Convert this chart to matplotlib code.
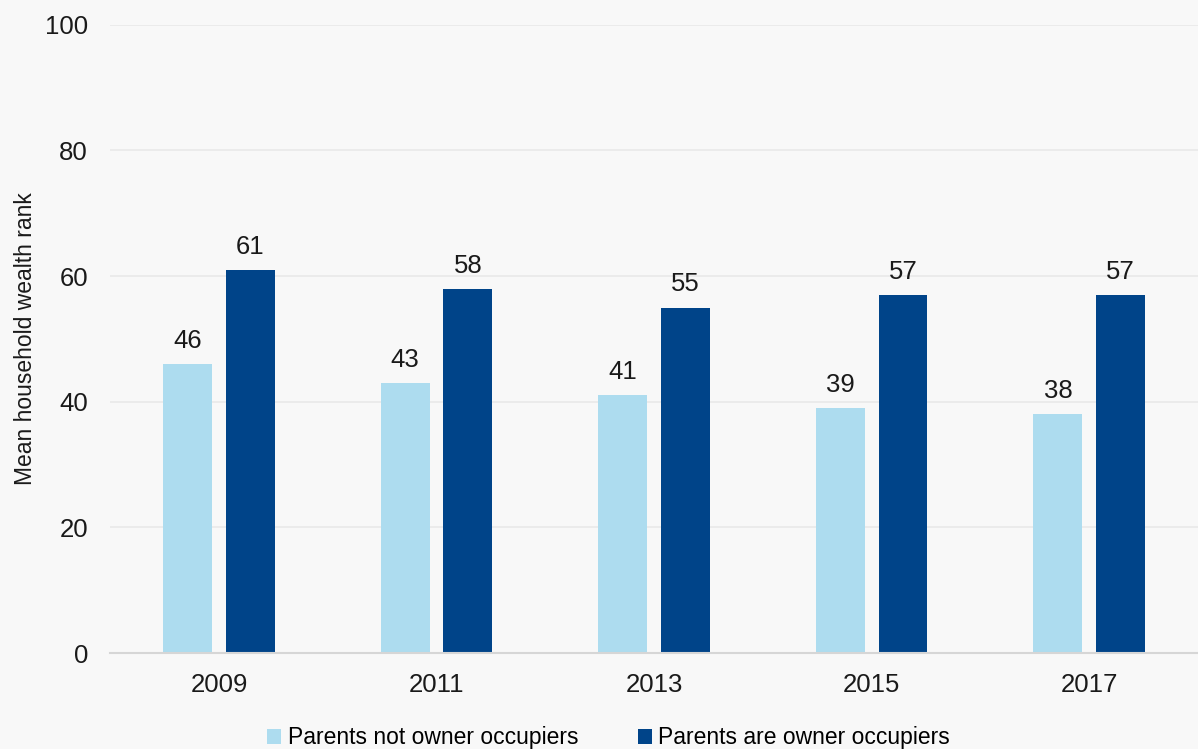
import matplotlib.pyplot as plt
import numpy as np

# Datos
years = ['2009', '2011', '2013', '2015', '2017']
not_owner = [46, 43, 41, 39, 38]
owner = [61, 58, 55, 57, 57]

C_LIGHT = '#addcef'
C_DARK = '#004489'
BG = '#f8f8f8'
C_TXT = '#1a1a1a'

plt.rcParams['font.family'] = ['Liberation Sans', 'DejaVu Sans']

fig = plt.figure(figsize=(11.98, 7.49), dpi=100)
fig.patch.set_facecolor(BG)
ax = fig.add_axes([0.092, 0.128, 0.908, 0.839])
ax.set_facecolor(BG)

x = np.arange(len(years))
w = 0.225
off = 0.144
b1 = ax.bar(x - off, not_owner, w, color=C_LIGHT, label='Parents not owner occupiers', zorder=3)
b2 = ax.bar(x + off, owner, w, color=C_DARK, label='Parents are owner occupiers', zorder=3)

# etiquetas de valor encima de cada barra
for bars, vals in ((b1, not_owner), (b2, owner)):
    for r, v in zip(bars, vals):
        ax.annotate(str(v), (r.get_x() + r.get_width() / 2, v),
                    xytext=(0, 8), textcoords='offset points',
                    ha='center', va='bottom', fontsize=18.5, color=C_TXT)

ax.set_xlim(-0.5, 4.5)
ax.set_ylim(0, 100)
ax.set_yticks([0, 20, 40, 60, 80, 100])
ax.set_xticks(x)
ax.set_xticklabels(years)
ax.tick_params(axis='both', length=0, labelsize=18.5, colors=C_TXT)
ax.tick_params(axis='y', pad=16)
ax.tick_params(axis='x', pad=14)
ax.yaxis.grid(True, color='#e9e9e9', lw=1.2, zorder=0)
ax.set_axisbelow(True)
for s in ['top', 'right', 'left']:
    ax.spines[s].set_visible(False)
ax.spines['bottom'].set_color('#d6d6d6')
ax.spines['bottom'].set_linewidth(1.5)
ax.spines['bottom'].set_zorder(4)

ax.set_ylabel('Mean household wealth rank', fontsize=16.5, color=C_TXT, labelpad=6)

fig.legend(loc='lower center', bbox_to_anchor=(0.508, -0.028), ncol=2,
           frameon=False, fontsize=16.5, handlelength=0.6, handleheight=0.6,
           handletextpad=0.3, columnspacing=2.6)

fig.savefig('out.png', dpi=100, facecolor=BG)
